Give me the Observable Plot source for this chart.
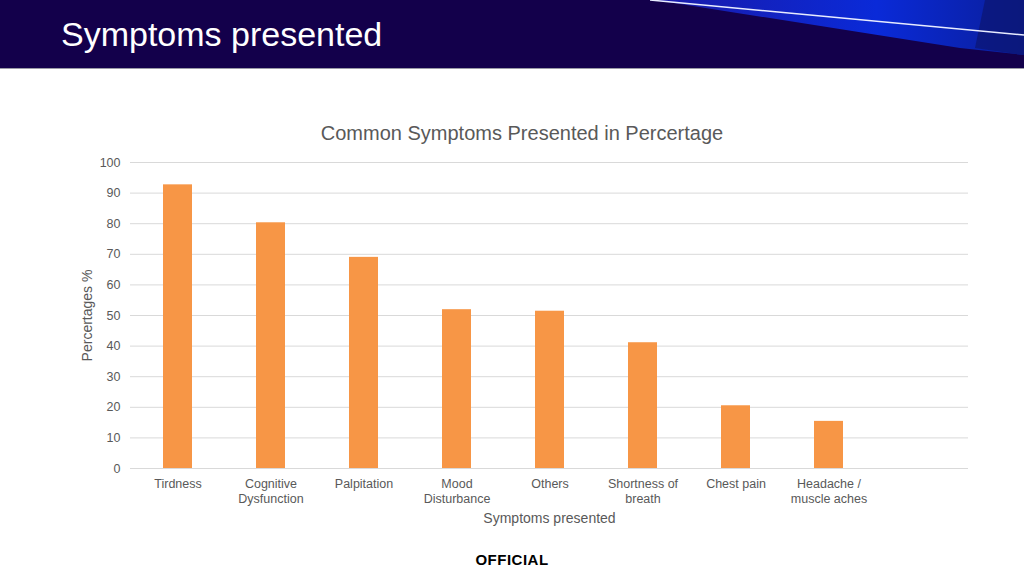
<!DOCTYPE html>
<html>
<head>
<meta charset="utf-8">
<script src="https://cdn.jsdelivr.net/npm/d3@7"></script>
<script src="https://cdn.jsdelivr.net/npm/@observablehq/plot@0.6"></script>
<style>
  html, body { margin: 0; padding: 0; background: #fff; }
  body { width: 1024px; height: 576px; position: relative; overflow: hidden; font-family: "Liberation Sans", Arial, sans-serif; }
  #header { position: absolute; left: 0; top: 0; width: 1024px; height: 68px; background: #13004b; border-bottom: 1.5px solid #9a9aa6; overflow: hidden; }
  #header svg { position: absolute; left: 0; top: 0; }
  #title { position: absolute; left: 61px; top: 15px; color: #fff; font-size: 34px; }
  #ctitle { position: absolute; left: 0; width: 1044px; top: 122px; text-align: center; color: #595959; font-size: 20px; }
  #chart { position: absolute; left: 0; top: 100px; }
  #official { position: absolute; left: 0; width: 1024px; top: 551px; text-align: center; font-weight: bold; font-size: 15px; color: #000; letter-spacing: 0.5px; }
</style>
</head>
<body>
<div id="header">
  <svg width="1024" height="68">
    <defs>
      <linearGradient id="g" x1="0" y1="0" x2="1" y2="0">
        <stop offset="0" stop-color="#1a1aa8"/>
        <stop offset="0.6" stop-color="#0a2ad8"/>
        <stop offset="1" stop-color="#0a1e9a"/>
      </linearGradient>
    </defs>
    <polygon points="655,0 1024,0 1024,55 960,48" fill="url(#g)"/>
    <polygon points="985,0 1024,0 1024,55 975,48" fill="#0b1670" opacity="0.7"/>
    <line x1="650" y1="0" x2="1024" y2="35" stroke="#e8ecff" stroke-width="1.5"/>
  </svg>
  <div id="title">Symptoms presented</div>
</div>
<div id="ctitle">Common Symptoms Presented in Percertage</div>
<div id="chart"></div>
<div id="official">OFFICIAL</div>
<script>
const categories = ["Tirdness", "Cognitive\nDysfunction", "Palpitation", "Mood\nDisturbance", "Others", "Shortness of\nbreath", "Chest pain", "Headache /\nmuscle aches"];
const values = [92.7, 80.3, 69.0, 51.9, 51.4, 41.1, 20.5, 15.4];
const yTicks = [0, 10, 20, 30, 40, 50, 60, 70, 80, 90, 100];
const placeholder = " ";

const data = categories.map((c, i) => ({category: c, value: values[i]}));

const chart = Plot.plot({
  width: 1024,
  height: 440,
  marginLeft: 130,
  marginRight: 56,
  marginTop: 62,
  marginBottom: 72,
  style: {fontFamily: "Liberation Sans, Arial, sans-serif", fontSize: "12px", color: "#595959", background: "transparent"},
  x: {domain: [...categories, placeholder], paddingInner: 0.69, paddingOuter: 0.345, align: 0.5},
  y: {domain: [0, 100]},
  marks: [
    Plot.gridY(yTicks, {stroke: "#d9d9d9", strokeOpacity: 1, strokeWidth: 1}),
    Plot.barY(data, {x: "category", y: "value", fill: "#f79646"}),
    Plot.ruleY([0], {stroke: "#d9d9d9", strokeWidth: 1}),
    Plot.axisY(yTicks, {tickSize: 0, tickPadding: 10, label: null, fill: "#595959", fontSize: 12.5}),
    Plot.axisX({tickSize: 0, tickPadding: 9, label: null, lineHeight: 1.2, fill: "#595959", fontSize: 12.5}),
    Plot.text(["Percertages %"], {frameAnchor: "left", textAnchor: "middle", dx: -43, rotate: -90, fontSize: 14, fill: "#595959"}),
    Plot.text(["Symptoms presented"], {frameAnchor: "bottom", dx: 0, dy: 54, fontSize: 14, fill: "#595959"})
  ]
});
document.getElementById("chart").appendChild(chart);
</script>
</body>
</html>
